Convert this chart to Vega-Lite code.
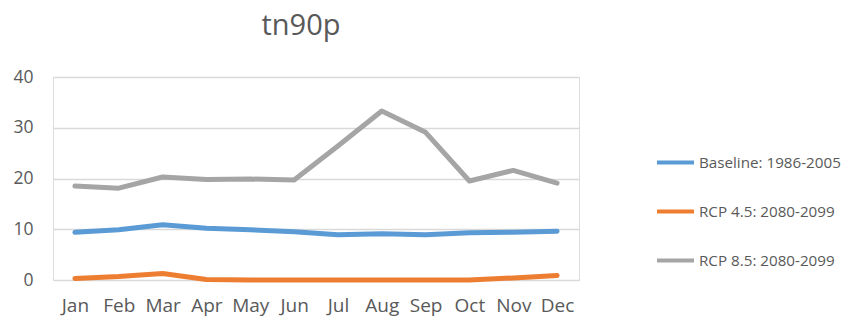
{
  "$schema": "https://vega.github.io/schema/vega-lite/v6.json",
  "width": 526,
  "height": 203,
  "autosize": {"type": "none"},
  "padding": {"left": 53, "top": 77, "right": 265, "bottom": 41},
  "background": "white",
  "title": {
    "text": "tn90p",
    "font": "Open Sans",
    "fontSize": 29,
    "fontWeight": "normal",
    "color": "#595959",
    "anchor": "middle",
    "dx": -15,
    "offset": 27
  },
  "data": {
    "values": [
      {"month": "Jan", "series": "Baseline: 1986-2005", "value": 9.4},
      {"month": "Feb", "series": "Baseline: 1986-2005", "value": 9.9},
      {"month": "Mar", "series": "Baseline: 1986-2005", "value": 10.9},
      {"month": "Apr", "series": "Baseline: 1986-2005", "value": 10.2},
      {"month": "May", "series": "Baseline: 1986-2005", "value": 9.9},
      {"month": "Jun", "series": "Baseline: 1986-2005", "value": 9.5},
      {"month": "Jul", "series": "Baseline: 1986-2005", "value": 8.9},
      {"month": "Aug", "series": "Baseline: 1986-2005", "value": 9.1},
      {"month": "Sep", "series": "Baseline: 1986-2005", "value": 8.9},
      {"month": "Oct", "series": "Baseline: 1986-2005", "value": 9.3},
      {"month": "Nov", "series": "Baseline: 1986-2005", "value": 9.4},
      {"month": "Dec", "series": "Baseline: 1986-2005", "value": 9.6},
      {"month": "Jan", "series": "RCP 4.5: 2080-2099", "value": 0.3},
      {"month": "Feb", "series": "RCP 4.5: 2080-2099", "value": 0.7},
      {"month": "Mar", "series": "RCP 4.5: 2080-2099", "value": 1.3},
      {"month": "Apr", "series": "RCP 4.5: 2080-2099", "value": 0.1},
      {"month": "May", "series": "RCP 4.5: 2080-2099", "value": 0.0},
      {"month": "Jun", "series": "RCP 4.5: 2080-2099", "value": 0.0},
      {"month": "Jul", "series": "RCP 4.5: 2080-2099", "value": 0.0},
      {"month": "Aug", "series": "RCP 4.5: 2080-2099", "value": 0.0},
      {"month": "Sep", "series": "RCP 4.5: 2080-2099", "value": 0.0},
      {"month": "Oct", "series": "RCP 4.5: 2080-2099", "value": 0.0},
      {"month": "Nov", "series": "RCP 4.5: 2080-2099", "value": 0.4},
      {"month": "Dec", "series": "RCP 4.5: 2080-2099", "value": 0.9},
      {"month": "Jan", "series": "RCP 8.5: 2080-2099", "value": 18.5},
      {"month": "Feb", "series": "RCP 8.5: 2080-2099", "value": 18.1},
      {"month": "Mar", "series": "RCP 8.5: 2080-2099", "value": 20.3},
      {"month": "Apr", "series": "RCP 8.5: 2080-2099", "value": 19.8},
      {"month": "May", "series": "RCP 8.5: 2080-2099", "value": 19.9},
      {"month": "Jun", "series": "RCP 8.5: 2080-2099", "value": 19.7},
      {"month": "Jul", "series": "RCP 8.5: 2080-2099", "value": 26.4},
      {"month": "Aug", "series": "RCP 8.5: 2080-2099", "value": 33.3},
      {"month": "Sep", "series": "RCP 8.5: 2080-2099", "value": 29.1},
      {"month": "Oct", "series": "RCP 8.5: 2080-2099", "value": 19.5},
      {"month": "Nov", "series": "RCP 8.5: 2080-2099", "value": 21.6},
      {"month": "Dec", "series": "RCP 8.5: 2080-2099", "value": 19.1}
    ]
  },
  "mark": {"type": "line", "strokeWidth": 5, "strokeCap": "round", "strokeJoin": "round"},
  "encoding": {
    "x": {
      "field": "month",
      "type": "ordinal",
      "sort": ["Jan", "Feb", "Mar", "Apr", "May", "Jun", "Jul", "Aug", "Sep", "Oct", "Nov", "Dec"],
      "scale": {"type": "point", "padding": 0.5},
      "axis": {
        "title": null,
        "labelAngle": 0,
        "labelFont": "Open Sans",
        "labelFontSize": 19,
        "labelColor": "#595959",
        "labelPadding": 16,
        "domain": false,
        "ticks": false,
        "grid": false
      }
    },
    "y": {
      "field": "value",
      "type": "quantitative",
      "scale": {"domain": [0, 40], "nice": false},
      "axis": {
        "title": null,
        "values": [0, 10, 20, 30, 40],
        "labelFont": "Open Sans",
        "labelFontSize": 17.5,
        "labelColor": "#595959",
        "labelPadding": 20,
        "domain": false,
        "ticks": false,
        "grid": true,
        "gridColor": "#d9d9d9",
        "gridWidth": 1.5
      }
    },
    "color": {
      "field": "series",
      "type": "nominal",
      "scale": {
        "domain": ["Baseline: 1986-2005", "RCP 4.5: 2080-2099", "RCP 8.5: 2080-2099"],
        "range": ["#5b9bd5", "#ed7d31", "#a5a5a5"]
      },
      "legend": {
        "title": null,
        "orient": "none",
        "legendX": 602,
        "legendY": 65,
        "symbolType": "stroke",
        "symbolSize": 1369,
        "symbolStrokeWidth": 4,
        "labelFont": "Open Sans",
        "labelFontSize": 15.2,
        "labelColor": "#595959",
        "labelOffset": 3,
        "labelLimit": 240,
        "rowPadding": 20
      }
    }
  }
}
